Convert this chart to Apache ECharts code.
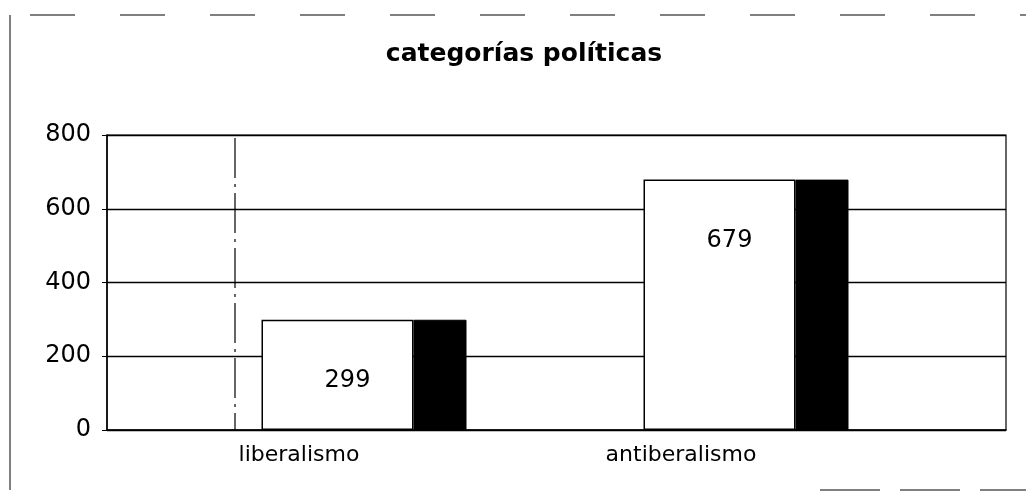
<!DOCTYPE html>
<html>
<head>
<meta charset="utf-8">
<script src="https://cdn.jsdelivr.net/npm/echarts@6/dist/echarts.min.js"></script>
<style>
  html, body { margin: 0; padding: 0; background: #fff; }
  #chart { width: 1026px; height: 500px; }
</style>
</head>
<body>
<div id="chart"></div>
<script>
// datos
const categorias = ['liberalismo', 'antiberalismo'];
const valoresBlancos = [299, 679];
const valoresNegros = [299, 679];
const yTicks = [0, 200, 400, 600, 800];

const chart = echarts.init(document.getElementById('chart'));

const option = {
    backgroundColor: '#fff',
    animation: false,
    title: {
        text: 'categorías políticas',
        left: 519,
        top: 37,
        textAlign: 'center',
        textStyle: { fontFamily: 'DejaVu Sans', fontWeight: 'bold', fontSize: 25, color: '#000' }
    },
    // marco exterior del escaneo
    graphic: [
        { type: 'line', shape: { x1: 10, y1: 15, x2: 10, y2: 490 }, style: { stroke: '#000', lineWidth: 1 } },
        { type: 'line', shape: { x1: 30, y1: 15, x2: 1026, y2: 15 }, style: { stroke: '#000', lineWidth: 1, lineDash: [45, 45] } },
        { type: 'line', shape: { x1: 820, y1: 490, x2: 1026, y2: 490 }, style: { stroke: '#000', lineWidth: 1, lineDash: [60, 20] } },
        { type: 'line', shape: { x1: 235, y1: 138, x2: 235, y2: 430 }, style: { stroke: '#000', lineWidth: 1.2, lineDash: [40, 6, 3, 6] }, z: 1 }
    ],
    grid: [
        // marco, eje y y líneas de división
        { left: 107, right: 20, top: 135, bottom: 70, show: true, borderColor: '#000', borderWidth: 1.2, backgroundColor: 'transparent' },
        // barras
        { left: 173, right: 89, top: 135, bottom: 70 }
    ],
    xAxis: [
        {
            gridIndex: 0,
            type: 'category',
            data: categorias,
            axisLine: { lineStyle: { color: '#000', width: 1.5 } },
            axisTick: { show: false },
            axisLabel: { show: false }
        },
        {
            gridIndex: 1,
            type: 'category',
            data: categorias,
            axisLine: { show: false },
            axisTick: { show: false },
            axisLabel: {
                margin: 14,
                padding: [0, 130, 0, 0],
                fontFamily: 'DejaVu Sans',
                fontSize: 22,
                color: '#000'
            }
        }
    ],
    yAxis: [
        {
            gridIndex: 0,
            type: 'value',
            min: yTicks[0],
            max: yTicks[yTicks.length - 1],
            interval: yTicks[1] - yTicks[0],
            axisLine: { show: true, lineStyle: { color: '#000', width: 1.5 } },
            axisTick: { show: true, length: 5, lineStyle: { color: '#000' } },
            axisLabel: { margin: 16, fontFamily: 'DejaVu Sans', fontSize: 24, color: '#000' },
            splitLine: { show: true, lineStyle: { color: '#000', width: 1.3 } }
        },
        {
            gridIndex: 1,
            type: 'value',
            min: yTicks[0],
            max: yTicks[yTicks.length - 1],
            show: false,
            splitLine: { show: false }
        }
    ],
    series: [
        {
            name: 'blanco',
            type: 'bar',
            xAxisIndex: 1,
            yAxisIndex: 1,
            data: valoresBlancos,
            barWidth: 152,
            barGap: '0%',
            z: 3,
            itemStyle: { color: '#fff', borderColor: '#000', borderWidth: 1.5 },
            label: {
                show: true,
                position: 'insideTop',
                distance: 49,
                offset: [10, 0],
                fontFamily: 'DejaVu Sans',
                fontSize: 24,
                color: '#000'
            }
        },
        {
            name: 'negro',
            type: 'bar',
            xAxisIndex: 1,
            yAxisIndex: 1,
            data: valoresNegros,
            barWidth: 53,
            barGap: '0%',
            z: 3,
            itemStyle: { color: '#000', borderColor: '#000', borderWidth: 1 }
        }
    ]
};

chart.setOption(option);
</script>
</body>
</html>
